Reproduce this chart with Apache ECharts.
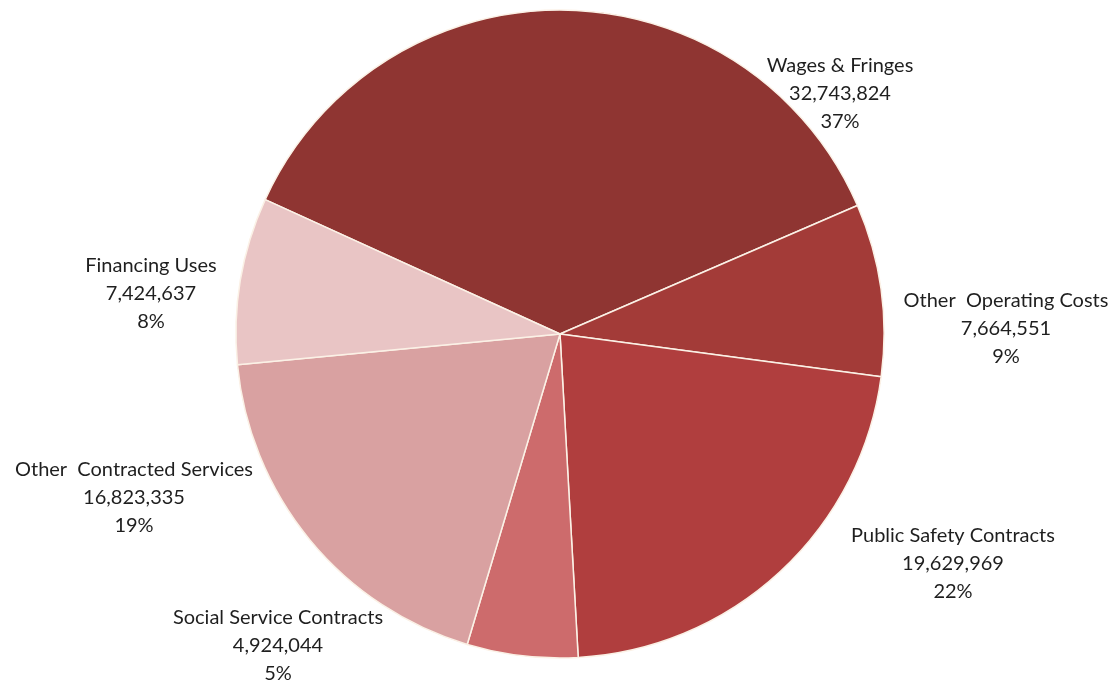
<!DOCTYPE html>
<html>
<head>
<meta charset="utf-8">
<script src="https://cdn.jsdelivr.net/npm/echarts@6/dist/echarts.min.js"></script>
<style>
  html, body { margin: 0; padding: 0; background: #ffffff; }
  #chart { width: 1118px; height: 681px; }
</style>
</head>
<body>
<div id="chart"></div>
<script>
// Budget uses by category
const categories = [
  'Wages & Fringes',
  'Other  Operating Costs',
  'Public Safety Contracts',
  'Social Service Contracts',
  'Other  Contracted Services',
  'Financing Uses'
];
const amounts = [32743824, 7664551, 19629969, 4924044, 16823335, 7424637];
const percentLabels = ['37%', '9%', '22%', '5%', '19%', '8%'];

// Slice fills, dark to light
const sliceColors = ['#8f3532', '#a33b38', '#b03e3e', '#cd6b6c', '#d9a1a1', '#e9c5c5'];
// Label block centres (x, y) in pixels
const labelCenters = [
  [840, 94], [1006, 329], [953, 564], [278, 646], [134, 498], [151, 294]
];

const fmt = n => n.toLocaleString('en-US');

const chart = echarts.init(document.getElementById('chart'));
chart.setOption({
  animation: false,
  series: [{
    type: 'pie',
    center: [560, 334],
    radius: [0, 324],
    startAngle: 155.5,
    clockwise: true,
    avoidLabelOverlap: false,
    itemStyle: { borderColor: '#fbf1e6', borderWidth: 1.5 },
    label: {
      show: true,
      position: 'outside',
      fontFamily: 'Lato, "Liberation Sans", sans-serif',
      fontSize: 20,
      lineHeight: 28,
      color: '#1f1f1f',
      align: 'center',
      formatter: p => p.name + '\n' + fmt(p.value) + '\n' + percentLabels[p.dataIndex]
    },
    labelLine: { show: false },
    labelLayout: p => ({
      x: labelCenters[p.dataIndex][0],
      y: labelCenters[p.dataIndex][1],
      align: 'center',
      verticalAlign: 'middle'
    }),
    data: categories.map((c, i) => ({
      name: c,
      value: amounts[i],
      itemStyle: { color: sliceColors[i] }
    }))
  }]
});
</script>
</body>
</html>
